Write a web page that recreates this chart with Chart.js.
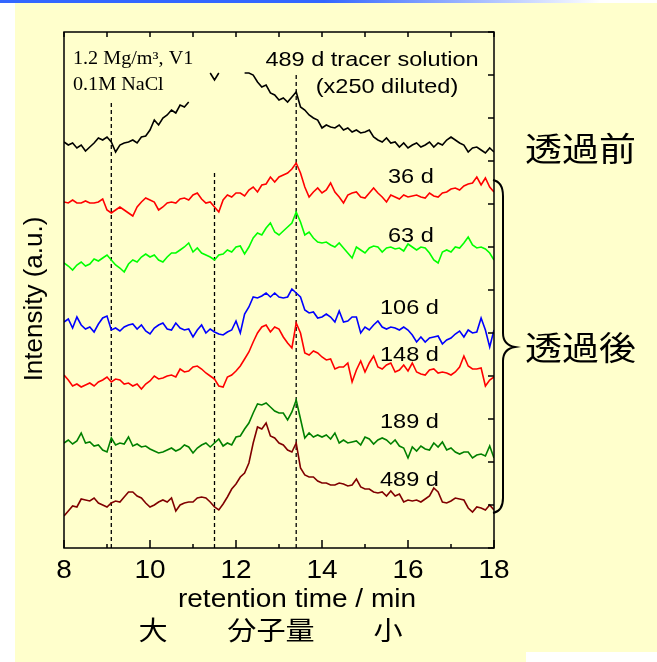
<!DOCTYPE html>
<html lang="ja">
<head>
<meta charset="UTF-8">
<title>GPC chromatograms of tracer solution</title>
<style>
  html, body { margin: 0; padding: 0; background: #fff; }
  canvas { display: block; }
</style>
</head>
<body>
<canvas id="chartCanvas" width="657" height="662"></canvas>
<script src="https://cdn.jsdelivr.net/npm/chart.js"></script>
<script>
// sampling grid: retention time every 0.1 min, 8 - 18 min
const times = Array.from({length: 101}, (_, i) => Math.round((8 + i * 0.1) * 10) / 10);

// stacked traces (a.u., offset per trace); null = off scale at top
const tracer = [406,403,405,400,403,397,401,405,410,408, 411,406,396,403,405,406,408,405,411,412,
  418,428,423,430,433,438,435,443,441,446, null,null,null,null,475,468,475,null,null,null,
  null,null,475,475,473,466,461,463,455,453, 448,450,446,451,456,441,438,433,430,428,
  420,423,421,420,423,418,420,416,418,415, 416,418,411,408,406,410,405,406,401,405,
  400,403,405,401,403,406,401,405,403,408, 411,408,405,403,396,400,401,398,395,400, 396];
const d36 = [346,345,348,345,345,347,345,345,346,349, 338,335,338,341,338,335,332,341,346,350,
  348,346,338,341,345,346,345,349,350,348, 353,355,349,345,346,341,336,348,353,351,
  355,355,352,358,361,356,363,364,371,366, 371,373,375,379,385,375,361,351,356,360,
  355,358,365,356,351,345,353,355,356,351, 350,355,360,355,351,346,353,351,349,353,
  351,352,353,351,350,355,352,351,355,356, 359,360,358,362,364,365,371,363,370,361, 356];
const d63 = [285,282,278,283,286,282,284,289,287,290, 293,288,283,280,276,284,288,286,291,294,
  291,293,288,286,291,295,295,298,301,305, 296,300,295,293,291,288,293,294,298,296,
  301,302,294,301,310,315,313,320,325,316, 313,317,321,325,336,326,313,316,310,306,
  305,306,303,301,305,300,295,290,301,298, 295,300,302,301,296,300,301,299,300,297,
  304,301,298,301,300,295,288,285,296,298, 296,301,300,305,311,303,300,301,299,295, 288];
const d106 = [226,229,220,231,223,219,221,216,224,230, 232,218,220,217,221,223,224,219,223,217,
  214,220,223,225,219,218,225,220,218,219, 211,218,223,215,219,216,214,213,216,218,
  227,215,234,241,251,250,252,255,251,255, 251,250,251,259,255,251,238,235,236,230,
  231,234,231,226,237,226,227,231,231,215, 221,218,223,227,221,219,221,220,218,221,
  218,213,206,211,206,210,211,212,204,208, 210,214,217,211,218,215,216,230,218,201, 218];
const d148 = [173,168,162,164,161,163,165,162,166,168, 171,166,169,168,164,165,162,164,159,164,
  167,172,169,170,172,173,171,179,176,177, 181,182,179,175,172,169,162,161,171,173,
  177,182,189,196,206,215,221,223,216,221, 219,211,205,200,225,215,195,193,197,195,
  191,188,189,179,181,181,185,166,178,187, 176,185,192,181,179,183,185,176,178,183,
  177,185,176,174,173,178,179,175,176,175, 173,176,181,192,182,179,179,180,162,168, 171];
const d189 = [105,108,104,107,115,105,106,102,103,98, 96,110,103,105,104,111,102,104,101,102,
  99,97,95,96,98,100,97,99,103,101, 95,100,103,105,101,105,109,102,105,103,
  111,112,119,125,135,144,143,145,141,137, 135,135,128,136,148,129,110,115,111,113,
  111,113,109,115,105,108,105,106,107,103, 111,109,104,108,110,108,104,108,102,100,
  90,101,97,102,99,98,105,101,106,98, 100,96,94,96,96,90,93,94,92,102, 90];
const d489 = [32,37,42,41,49,48,47,50,45,43, 41,45,47,46,51,56,56,52,50,45,
  41,43,46,48,46,50,37,43,45,46, 46,50,51,50,46,41,38,44,51,59,
  64,71,75,85,105,121,119,125,112,110, 105,103,98,96,105,80,73,71,71,67,
  65,65,63,63,65,64,62,63,69,61, 59,59,56,55,56,52,57,52,54,46,
  48,47,48,46,49,52,60,56,46,45, 47,50,49,48,40,36,41,40,38,43, 38];

const dayLabels = ['36 d', '63 d', '106 d', '148 d', '189 d', '489 d'];

// dashed reference lines: retention time and top end (a.u.)
const guideTimes = [9.1, 11.5, 13.4];
const guideTops = [448, 376, 473];

const sans = 'Arial, "Liberation Sans", sans-serif';
const serif = '"Times New Roman", "Liberation Serif", serif';
const cjk = '"Noto Sans CJK JP", "Noto Sans CJK SC", sans-serif';

function trace(data, color) {
  return { data: data, borderColor: color, borderWidth: 1.6, pointRadius: 0, spanGaps: false };
}

const guides = guideTimes.map((t, i) => ({
  data: [{x: t, y: 0}, {x: t, y: guideTops[i]}],
  borderColor: '#000', borderWidth: 1.3, borderDash: [4, 3], pointRadius: 0
}));

// text is a little wide in the original slide, so stretch it horizontally
function say(ctx, text, x, y, font, align) {
  ctx.save();
  ctx.font = font;
  ctx.textAlign = align || 'left';
  ctx.textBaseline = 'middle';
  ctx.translate(x, y);
  ctx.scale(1.12, 1);
  ctx.fillText(text, 0, 0);
  ctx.restore();
}

const slide = {
  id: 'slide',
  beforeDraw(chart) {
    const ctx = chart.ctx;
    ctx.save();
    ctx.fillStyle = '#fff';
    ctx.fillRect(0, 0, 657, 662);
    ctx.fillStyle = '#FFFFCC';
    ctx.fillRect(15, 3, 642, 659);
    ctx.fillStyle = '#fff';
    ctx.fillRect(526, 652, 131, 10);
    const g = ctx.createLinearGradient(0, 0, 600, 0);
    g.addColorStop(0, '#3366FF');
    g.addColorStop(0.54, '#3366FF');
    g.addColorStop(1, '#FFFFFF');
    ctx.fillStyle = g;
    ctx.fillRect(0, 0, 657, 3);
    ctx.restore();
  }
};

const frame = {
  id: 'frame',
  afterDraw(chart) {
    const {ctx, chartArea: a, scales: {x, y}} = chart;
    ctx.save();
    ctx.strokeStyle = '#000';
    ctx.fillStyle = '#000';
    ctx.lineWidth = 1.5;
    ctx.strokeRect(a.left, a.top, a.right - a.left, a.bottom - a.top);

    // inward ticks: every minute on top and bottom, every step on the right
    ctx.beginPath();
    for (let t = x.min; t <= x.max; t++) {
      const px = x.getPixelForValue(t);
      ctx.moveTo(px, a.bottom);
      ctx.lineTo(px, a.bottom - (t % 2 === 0 ? 8 : 4));
      ctx.moveTo(px, a.top);
      ctx.lineTo(px, a.top + 5);
    }
    for (let v = y.min; v <= y.max; v += 43) {
      const py = y.getPixelForValue(v);
      ctx.moveTo(a.right, py);
      ctx.lineTo(a.right - 6, py);
    }
    ctx.stroke();

    for (let t = x.min; t <= x.max; t += 2) {
      say(ctx, String(t), x.getPixelForValue(t), 571, '25px ' + sans, 'center');
    }
    say(ctx, 'retention time / min', 297, 600, '25px ' + sans, 'center');
    say(ctx, '大', 153, 630, '26px ' + cjk, 'center');
    say(ctx, '分子量', 271, 630, '26px ' + cjk, 'center');
    say(ctx, '小', 388, 630, '26px ' + cjk, 'center');

    ctx.save();
    ctx.translate(35, 299);
    ctx.rotate(-Math.PI / 2);
    ctx.font = '26px ' + sans;
    ctx.textAlign = 'center';
    ctx.textBaseline = 'middle';
    ctx.fillText('Intensity (a.u.)', 0, 0);
    ctx.restore();

    say(ctx, '1.2 Mg/m³, V1', 73, 59, '18px ' + serif);
    say(ctx, '0.1M NaCl', 73, 85, '18px ' + serif);
    say(ctx, '489 d tracer solution', 372, 60, '21px ' + sans, 'center');
    say(ctx, '(x250 diluted)', 387, 87, '21px ' + sans, 'center');

    const tagPos = [[388, 177], [388, 236], [380, 308], [380, 355], [380, 422], [380, 480]];
    dayLabels.forEach((s, i) => say(ctx, s, tagPos[i][0], tagPos[i][1], '21px ' + sans));

    say(ctx, '透過前', 525, 148, '33px ' + cjk);
    say(ctx, '透過後', 525, 347, '33px ' + cjk);

    // brace grouping the permeated samples
    ctx.lineWidth = 2;
    ctx.beginPath();
    ctx.moveTo(493, 180);
    ctx.quadraticCurveTo(503, 182, 503, 196);
    ctx.lineTo(503, 333);
    ctx.quadraticCurveTo(503, 345, 515, 347);
    ctx.quadraticCurveTo(503, 349, 503, 361);
    ctx.lineTo(503, 498);
    ctx.quadraticCurveTo(503, 511, 493, 513);
    ctx.stroke();
    ctx.restore();
  }
};

new Chart(document.getElementById('chartCanvas').getContext('2d'), {
  type: 'line',
  data: {
    labels: times,
    datasets: [
      trace(tracer, '#000000'),
      trace(d36, '#FF0000'),
      trace(d63, '#00FF00'),
      trace(d106, '#0000FF'),
      trace(d148, '#FF0000'),
      trace(d189, '#008000'),
      trace(d489, '#800000'),
      ...guides
    ]
  },
  options: {
    responsive: false,
    animation: false,
    events: [],
    layout: { padding: { left: 64, top: 32, right: 163, bottom: 114 } },
    elements: { line: { tension: 0 } },
    plugins: { legend: { display: false }, tooltip: { enabled: false } },
    scales: {
      x: { type: 'linear', display: false, min: 8, max: 18 },
      y: { type: 'linear', display: false, min: 0, max: 516 }
    }
  },
  plugins: [slide, frame]
});
</script>
</body>
</html>
